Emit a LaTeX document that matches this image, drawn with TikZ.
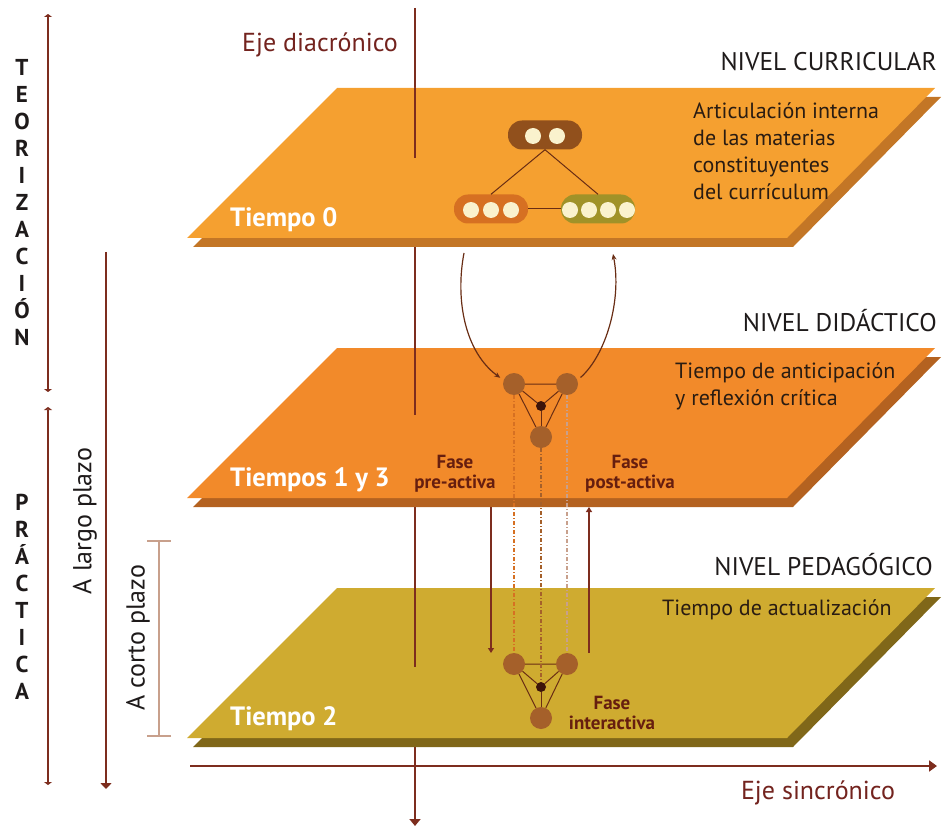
\documentclass[tikz,border=0pt]{standalone}
\usepackage{fontspec}
\setmainfont{PT Sans}
\usetikzlibrary{arrows.meta}
\definecolor{axisbrown}{RGB}{125,45,30}
\definecolor{labelred}{RGB}{115,35,30}
\definecolor{headblack}{RGB}{30,26,26}
\definecolor{textdark}{RGB}{42,28,18}
\definecolor{fasered}{RGB}{102,30,15}
\definecolor{planeone}{RGB}{245,160,48}
\definecolor{planeoneshade}{RGB}{195,118,38}
\definecolor{planetwo}{RGB}{242,138,42}
\definecolor{planetwoshade}{RGB}{180,98,32}
\definecolor{planethree}{RGB}{207,171,48}
\definecolor{planethreeshade}{RGB}{128,103,25}
\definecolor{pilldark}{RGB}{145,80,28}
\definecolor{pillorange}{RGB}{214,112,34}
\definecolor{pillolive}{RGB}{160,146,40}
\definecolor{beadcream}{RGB}{250,242,205}
\definecolor{knotbrown}{RGB}{165,96,42}
\definecolor{knotcore}{RGB}{60,20,10}
\definecolor{linkbrown}{RGB}{105,45,20}
\definecolor{cortotan}{RGB}{200,160,140}

\begin{document}
\begin{tikzpicture}[x=1pt, y=-1pt,
    axis/.style={draw=axisbrown, line width=2.6pt},
    flat/.style={draw=axisbrown, line width=1.6pt},
    pill/.style={rounded corners=14pt, minimum width=74pt, minimum height=29pt, inner sep=0pt},
    bead/.style={circle, fill=beadcream, minimum size=16pt, inner sep=0pt},
    knot/.style={circle, fill=knotbrown, minimum size=22pt, inner sep=0pt},
    core/.style={circle, fill=knotcore, minimum size=10pt, inner sep=0pt},
    link/.style={draw=linkbrown, line width=1pt},
    trace/.style={line width=1.3pt, dash pattern=on 4pt off 2pt on 1pt off 2pt},
    loopline/.style={draw=linkbrown, line width=1.2pt},
    heading/.style={font=\fontsize{25.5}{30}\selectfont, text=headblack, inner sep=0pt},
    body/.style={font=\fontsize{22}{27}\selectfont, text=textdark, align=left, inner sep=0pt},
    tiempo/.style={font=\bfseries\fontsize{26.5}{30}\selectfont, text=white, inner sep=0pt},
    fase/.style={font=\bfseries\fontsize{19}{20}\selectfont, text=fasered, align=center, inner sep=0pt},
    axislabel/.style={font=\fontsize{26}{30}\selectfont, text=labelred, inner sep=0pt},
    stack/.style={font=\bfseries\fontsize{23}{27}\selectfont, text=headblack, align=center, inner sep=0pt},
    side/.style={font=\fontsize{26}{30}\selectfont, text=headblack, rotate=90, inner sep=0pt}]

\useasboundingbox (0,0) rectangle (943,829);

\coordinate (vtop) at (415,8);
\coordinate (vbot) at (415,826);
\draw[axis, -{Triangle[length=7pt,width=11pt]}] (vtop) -- (vbot);

\fill[planeoneshade] (343,97) -- (941,97) -- (793,247) -- (193,247) -- cycle;
\fill[planeone] (337,88) -- (935,88) -- (787,238) -- (187,238) -- cycle;
\fill[planetwoshade] (343,357) -- (941,357) -- (793,507) -- (193,507) -- cycle;
\fill[planetwo] (337,348) -- (935,348) -- (787,498) -- (187,498) -- cycle;
\fill[planethreeshade] (343,597) -- (941,597) -- (793,747) -- (193,747) -- cycle;
\fill[planethree] (337,588) -- (935,588) -- (787,738) -- (187,738) -- cycle;

\draw[axis] (415,88) -- (415,158);
\draw[axis] (415,348) -- (415,415);
\draw[axis] (415,588) -- (415,667);

\coordinate (hleft) at (190,766);
\coordinate (hright) at (937,766);
\draw[flat, line width=2pt, -{Triangle[length=8pt,width=11pt]}] (hleft) -- (hright);

\coordinate (teotop) at (48,14);
\coordinate (teobot) at (48,392);
\coordinate (pratop) at (48,407);
\coordinate (prabot) at (48,785);
\draw[flat, {Triangle[length=3pt,width=8pt]}-{Triangle[length=3pt,width=8pt]}] (teotop) -- (teobot);
\draw[flat, {Triangle[length=3pt,width=8pt]}-{Triangle[length=3pt,width=8pt]}] (pratop) -- (prabot);
\coordinate (largotop) at (106,252);
\coordinate (largobot) at (106,789);
\draw[flat, -{Triangle[length=6pt,width=11pt]}] (largotop) -- (largobot);
\coordinate (cortotop) at (159,540);
\coordinate (cortobot) at (159,737);
\draw[draw=cortotan, line width=2pt, {Bar[width=24pt]}-{Bar[width=24pt]}] (cortotop) -- (cortobot);

\node[pill, fill=pilldark] (mat0) at (545,135) {};
\node[pill, fill=pillorange] (mat1) at (491,209) {};
\node[pill, fill=pillolive] (mat2) at (598,209) {};
\draw[link] (mat0.south) -- (mat1.north);
\draw[link] (mat0.south) -- (mat2.north);
\draw[link] (mat1.east) -- (mat2.west);
\node[bead] (b01) at (533,136) {};
\node[bead] (b02) at (557,136) {};
\node[bead] (b11) at (471,210) {};
\node[bead] (b12) at (491,210) {};
\node[bead] (b13) at (511,210) {};
\node[bead] (b21) at (570,210) {};
\node[bead] (b22) at (589,210) {};
\node[bead] (b23) at (608,210) {};
\node[bead] (b24) at (627,210) {};

\node[knot] (k1a) at (514,384) {};
\node[knot] (k1b) at (567,384) {};
\node[knot] (k1c) at (541,437) {};
\node[core] (k1m) at (541,406) {};
\draw[link] (k1a) -- (k1b) -- (k1c) -- (k1a);
\draw[link] (k1m) -- (k1a);
\draw[link] (k1m) -- (k1b);
\draw[link] (k1m) -- (k1c);

\node[knot] (k2a) at (514,664) {};
\node[knot] (k2b) at (567,664) {};
\node[knot] (k2c) at (541,718) {};
\node[core] (k2m) at (541,687) {};
\draw[link] (k2a) -- (k2b) -- (k2c) -- (k2a);
\draw[link] (k2m) -- (k2a);
\draw[link] (k2m) -- (k2b);
\draw[link] (k2m) -- (k2c);

\draw[trace, draw=pillorange] (k1a) -- (k2a);
\draw[trace, draw=knotbrown] (k1c) -- (k2m);
\draw[trace, draw=cortotan] (k1b) -- (k2b);

\coordinate (loopin) at (464,253);
\coordinate (loopout) at (613,254);
\draw[loopline, shorten >=4pt, -{Stealth[length=6pt,width=5pt]}] (loopin) .. controls (455,300) and (465,352) .. (k1a.160);
\draw[loopline, shorten <=4pt, -{Stealth[length=6pt,width=5pt]}] (k1b.20) .. controls (606,355) and (622,300) .. (loopout);

\coordinate (pretop) at (491,507);
\coordinate (prebot) at (491,653);
\coordinate (posttop) at (589,507);
\coordinate (postbot) at (589,653);
\draw[flat, line width=1.3pt, -{Triangle[length=5pt,width=6pt]}] (pretop) -- (prebot);
\draw[flat, line width=1.3pt, -{Triangle[length=5pt,width=6pt]}] (postbot) -- (posttop);

\node[axislabel, anchor=base] (diacron) at (320,52) {Eje diacrónico};
\node[axislabel, anchor=base] (sincron) at (818,799) {Eje sincrónico};
\node[heading, anchor=base east] (curr) at (937,71) {NIVEL CURRICULAR};
\node[heading, anchor=base east] (dida) at (937,331) {NIVEL DIDÁCTICO};
\node[heading, anchor=base east] (peda) at (933,575) {NIVEL PEDAGÓGICO};
\node[body, anchor=north west] (currtext) at (693,102) {Articulación interna\\de las materias\\constituyentes\\del currículum};
\node[body, anchor=north west] (didatext) at (675,362) {Tiempo de anticipación\\y reflexión crítica};
\node[body, anchor=north west] (pedatext) at (662,599) {Tiempo de actualización};
\node[tiempo, anchor=base west] (t0) at (230,227) {Tiempo 0};
\node[tiempo, anchor=base west] (t13) at (230,486) {Tiempos 1 y 3};
\node[tiempo, anchor=base west] (t2) at (230,725) {Tiempo 2};
\node[fase] (pre) at (455,474) {Fase\\pre-activa};
\node[fase] (post) at (630,474) {Fase\\post-activa};
\node[fase] (inter) at (612,713) {Fase\\interactiva};
\node[stack] (teo) at (22,203) {T\\E\\O\\R\\I\\Z\\A\\C\\I\\Ó\\N};
\node[stack] (pra) at (22,597) {P\\R\\Á\\C\\T\\I\\C\\A};
\node[side] (largo) at (85,521) {A largo plazo};
\node[side] (corto) at (138,638) {A corto plazo};
\end{tikzpicture}
\end{document}
